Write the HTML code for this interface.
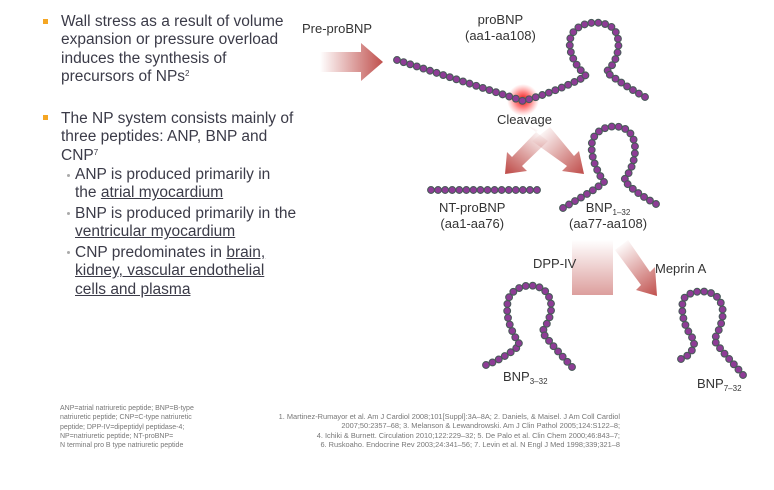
<!DOCTYPE html>
<html><head><meta charset="utf-8"><style>
body{margin:0;width:774px;height:490px;background:#fff;position:relative;overflow:hidden;font-family:"Liberation Sans",sans-serif;}
.t{position:absolute;white-space:nowrap;color:#3b3b48;font-size:15.5px;line-height:18.3px;}
.u{text-decoration:underline;}
.sq{position:absolute;width:5px;height:5px;background:#f5a623;}
.dot{position:absolute;width:3px;height:3px;border-radius:50%;background:#aaa;}
.l{position:absolute;white-space:nowrap;color:#333;font-size:13px;line-height:16px;text-align:center;}
.s{position:absolute;white-space:nowrap;color:#777;font-size:7px;line-height:9.3px;}
sub{font-size:8px;line-height:0;vertical-align:-3px;}
sup{font-size:8px;line-height:0;vertical-align:5px;}
svg{position:absolute;left:0;top:0;}
</style></head><body>
<svg width="774" height="490" id="sv">
<defs>
<linearGradient id="gh" x1="0" x2="1" y1="0" y2="0"><stop offset="0" stop-color="#c0504d" stop-opacity="0"/><stop offset="1" stop-color="#c0504d"/></linearGradient>
<linearGradient id="gv" x1="0" x2="0" y1="0" y2="1"><stop offset="0" stop-color="#c0504d" stop-opacity="0"/><stop offset="1" stop-color="#c0504d" stop-opacity="0.55"/></linearGradient>
<linearGradient id="gd1" x1="540" y1="130" x2="508" y2="173" gradientUnits="userSpaceOnUse"><stop offset="0" stop-color="#c0504d" stop-opacity="0"/><stop offset="1" stop-color="#c0504d"/></linearGradient>
<linearGradient id="gd2" x1="540" y1="130" x2="583" y2="173" gradientUnits="userSpaceOnUse"><stop offset="0" stop-color="#c0504d" stop-opacity="0"/><stop offset="1" stop-color="#c0504d"/></linearGradient>
<linearGradient id="gd3" x1="620" y1="243" x2="657" y2="296" gradientUnits="userSpaceOnUse"><stop offset="0" stop-color="#c0504d" stop-opacity="0"/><stop offset="1" stop-color="#c0504d"/></linearGradient>
<radialGradient id="burst"><stop offset="0" stop-color="#e00000"/><stop offset="0.5" stop-color="#ff3030" stop-opacity="0.6"/><stop offset="1" stop-color="#ff6060" stop-opacity="0"/></radialGradient>
</defs>
<polygon points="320,52 361,52 361,43 383,62 361,81 361,72 320,72" fill="url(#gh)"/>
<polygon points="528,126 548,141 522,166 527,171 505,174 507,152 512,157 538,130" fill="url(#gd1)" />
<polygon points="532,141 550,127 574,156 579,151 584,174 562,171 567,166" fill="url(#gd2)"/>
<rect x="572" y="240" width="41" height="55" fill="url(#gv)"/>
<polygon points="615,250 628,240 650,272 655,267 657,296 636,290 641,285" fill="url(#gd3)"/>
<circle cx="523" cy="100" r="16" fill="url(#burst)"/>
<g id="beads"></g>
</svg>

<div class="sq" style="left:43px;top:19px"></div>
<div class="t" style="left:61px;top:13px">Wall stress as a result of volume<br>expansion or pressure overload<br>induces the synthesis of<br>precursors of NPs<sup>2</sup></div>
<div class="sq" style="left:43px;top:115px"></div>
<div class="t" style="left:61px;top:110px">The NP system consists mainly of<br>three peptides: ANP, BNP and<br>CNP<sup>7</sup></div>
<div class="dot" style="left:67px;top:174px"></div>
<div class="t" style="left:75px;top:166px">ANP is produced primarily in<br>the <span class="u">atrial myocardium</span></div>
<div class="dot" style="left:67px;top:212px"></div>
<div class="t" style="left:75px;top:205px">BNP is produced primarily in the<br><span class="u">ventricular myocardium</span></div>
<div class="dot" style="left:67px;top:251px"></div>
<div class="t" style="left:75px;top:244px">CNP predominates in <span class="u">brain,</span><br><span class="u">kidney, vascular endothelial</span><br><span class="u">cells and plasma</span></div>

<div class="l" style="left:302px;top:21px">Pre-proBNP</div>
<div class="l" style="left:465px;top:12px">proBNP<br>(aa1-aa108)</div>
<div class="l" style="left:497px;top:112px">Cleavage</div>
<div class="l" style="left:439px;top:200px">NT-proBNP<br>(aa1-aa76)</div>
<div class="l" style="left:569px;top:200px">BNP<sub>1–32</sub><br>(aa77-aa108)</div>
<div class="l" style="left:533px;top:256px">DPP-IV</div>
<div class="l" style="left:655px;top:261px">Meprin A</div>
<div class="l" style="left:503px;top:369px">BNP<sub>3–32</sub></div>
<div class="l" style="left:697px;top:376px">BNP<sub>7–32</sub></div>

<div class="s" style="left:60px;top:404px">ANP=atrial natriuretic peptide; BNP=B-type<br>natriuretic peptide; CNP=C-type natriuretic<br>peptide; DPP-IV=dipeptidyl peptidase-4;<br>NP=natriuretic peptide; NT-proBNP=<br>N terminal pro B type natriuretic peptide</div>
<div class="s" style="left:200px;top:412px;text-align:right;width:420px;font-size:7.4px">1. Martinez-Rumayor et al. Am J Cardiol 2008;101[Suppl]:3A–8A; 2. Daniels, &amp; Maisel. J Am Coll Cardiol<br>2007;50:2357–68; 3. Melanson &amp; Lewandrowski. Am J Clin Pathol 2005;124:S122–8;<br>4. Ichiki &amp; Burnett. Circulation 2010;122:229–32; 5. De Palo et al. Clin Chem 2000;46:843–7;<br>6. Ruskoaho. Endocrine Rev 2003;24:341–56; 7. Levin et al. N Engl J Med 1998;339;321–8</div>

<script>
var NS="http://www.w3.org/2000/svg",g=document.getElementById("beads");
var paths=[
"M397,60 L523,101 C545,95 570,85 586,76 C578,68 568,55 570,40 C573,22 600,18 613,28 C622,38 620,60 606,72 C620,82 632,90 645,97",
"M431,190 L537,190",
"M563,208 C580,198 595,190 604,182 C596,170 590,155 592,142 C595,128 615,122 627,130 C640,140 636,165 624,180 C632,190 645,198 656,204",
"M486,365 C500,360 512,352 520,345 C510,330 505,315 508,300 C512,286 535,280 546,292 C556,305 550,320 542,332 C552,345 562,356 572,367",
"M681,359 C690,356 695,348 694,340 C686,330 680,315 683,300 C688,290 710,288 718,298 C727,310 722,325 714,340 C722,352 735,365 743,375"
];
paths.forEach(function(d){
 var p=document.createElementNS(NS,"path");p.setAttribute("d",d);p.setAttribute("fill","none");p.setAttribute("stroke","#444");p.setAttribute("stroke-width","1");g.appendChild(p);
 var L=p.getTotalLength(),n=Math.round(L/7);
 for(var i=0;i<=n;i++){var pt=p.getPointAtLength(L*i/n);var c=document.createElementNS(NS,"circle");
 c.setAttribute("cx",pt.x);c.setAttribute("cy",pt.y);c.setAttribute("r","3.4");c.setAttribute("fill","#8e3c96");c.setAttribute("stroke","#4a5a5a");c.setAttribute("stroke-width","1.1");g.appendChild(c);}
});
</script>
</body></html>
